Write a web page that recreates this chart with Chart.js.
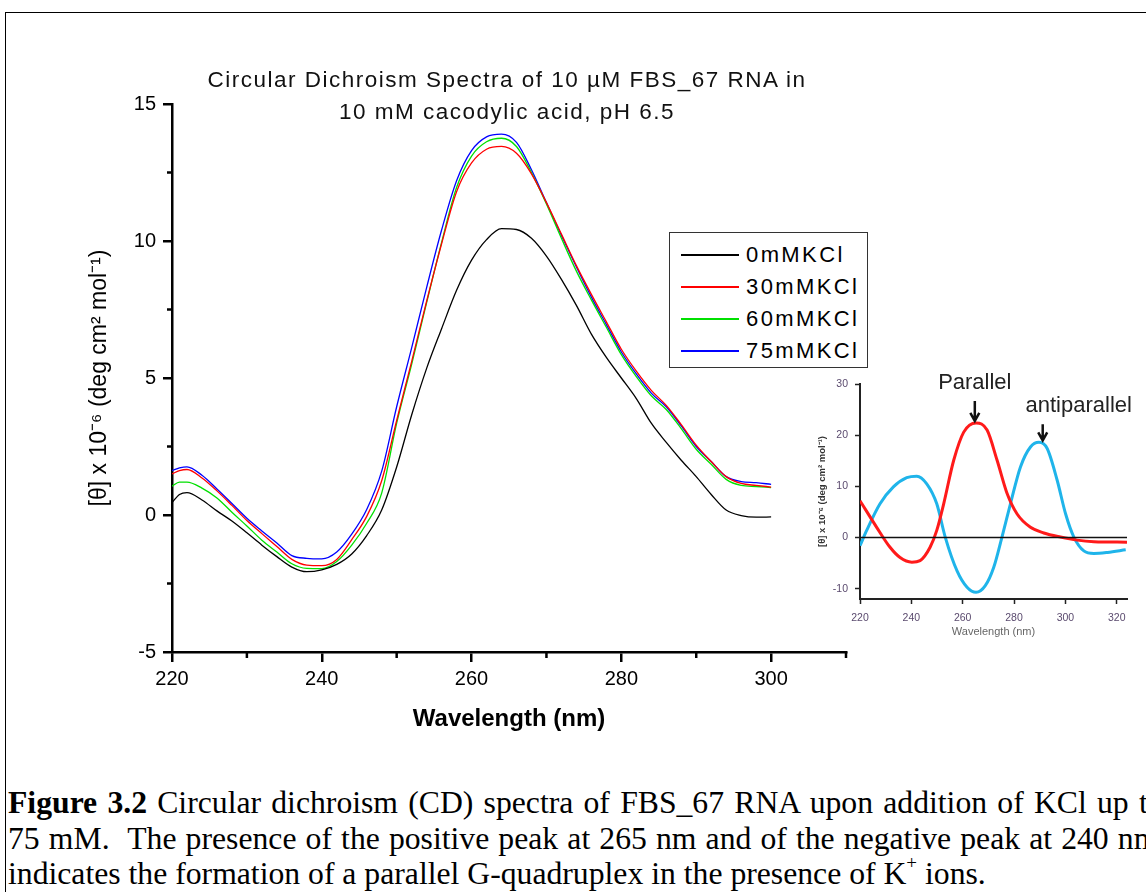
<!DOCTYPE html>
<html lang="en">
<head>
<meta charset="UTF-8">
<title>CD spectra of FBS_67 RNA</title>
<script src="https://cdn.jsdelivr.net/npm/chart.js"></script>
<style>
  html, body { margin: 0; padding: 0; background: #fff; }
  body { width: 1146px; height: 892px; overflow: hidden; position: relative; font-family: 'Liberation Sans', Arial, sans-serif; }
  #frame { position: absolute; left: 5px; top: 12px; width: 1300px; height: 1000px; border-left: 1px solid #000; border-top: 1px solid #000; }
  #mainChart { position: absolute; left: 0; top: 0; }
  #insetChart { position: absolute; left: 790px; top: 360px; }
  #title { position: absolute; left: 0; width: 1014px; top: 64px; text-align: center; font-size: 22.5px; letter-spacing: 1.5px; line-height: 32px; color: #111; }
  #legend { position: absolute; left: 669px; top: 232px; width: 199px; height: 136px; border: 1.5px solid #333; box-sizing: border-box; background: #fff; }
  #legend .row { position: absolute; left: 0; width: 100%; height: 32px; }
  #legend .swatch { position: absolute; left: 11px; top: 15px; width: 58px; height: 2px; }
  #legend .lab { position: absolute; left: 76px; top: 0; line-height: 32px; font-size: 22px; letter-spacing: 2.4px; color: #000; }
  #caption { position: absolute; left: 8px; top: 785px; font-family: 'Liberation Serif', 'Times New Roman', serif; font-size: 31.7px; line-height: 35.5px; white-space: nowrap; color: #000; }
  #caption .just1 { word-spacing: 2.3px; }
  #caption .just2 { word-spacing: 1.2px; }
  #caption sup { font-size: 0.6em; line-height: 0; vertical-align: 0.8em; }
</style>
</head>
<body>
<div id="frame"></div>
<canvas id="mainChart" width="1146" height="760"></canvas>
<div id="title">Circular Dichroism Spectra of 10 µM FBS_67 RNA in<br>10 mM cacodylic acid, pH 6.5</div>
<div id="legend"></div>
<canvas id="insetChart" width="356" height="290"></canvas>
<div id="caption"><span class="just1"><b>Figure 3.2</b> Circular dichroism (CD) spectra of FBS_67 RNA upon addition of KCl up to</span><br><span class="just2">75 mM.&nbsp; The presence of the positive peak at 265 nm and of the negative peak at 240 nm</span><br>indicates the formation of a parallel G-quadruplex in the presence of K<sup>+</sup> ions.</div>

<script>
// main spectra, wavelength in nm
const wavelength = [220, 221, 222, 224, 226, 228, 230, 232, 234, 236, 238, 240, 242, 244, 246, 248, 250, 252, 254, 256, 258, 260,
                    262, 264, 266, 268, 270, 272, 274, 276, 278, 280, 282, 284, 286, 288, 290, 292, 294, 296, 298, 300];
const kcl0  = [0.45, 0.75, 0.82, 0.55, 0.15, -0.22, -0.65, -1.10, -1.52, -1.90, -2.07, -2.00, -1.80, -1.42, -0.75, 0.18, 1.75, 3.65, 5.35, 6.80, 8.20, 9.30,
               10.05, 10.45, 10.42, 10.10, 9.45, 8.60, 7.65, 6.60, 5.75, 5.00, 4.25, 3.35, 2.65, 2.00, 1.40, 0.75, 0.18, -0.02, -0.08, -0.07];
const kcl30 = [1.50, 1.62, 1.66, 1.35, 0.88, 0.35, -0.20, -0.68, -1.15, -1.62, -1.83, -1.85, -1.62, -0.90, -0.05, 1.25, 3.45, 5.60, 7.80, 9.90, 11.80, 12.85,
               13.35, 13.45, 13.20, 12.45, 11.40, 10.25, 9.10, 8.05, 7.05, 6.05, 5.25, 4.55, 4.00, 3.30, 2.55, 1.95, 1.40, 1.15, 1.08, 1.02];
const kcl60 = [1.05, 1.20, 1.20, 0.98, 0.62, 0.10, -0.40, -0.92, -1.35, -1.78, -1.95, -1.96, -1.70, -1.10, -0.30, 0.80, 3.35, 5.50, 7.75, 9.95, 11.95, 13.10,
               13.62, 13.75, 13.45, 12.50, 11.35, 10.10, 8.90, 7.85, 6.85, 5.85, 5.05, 4.35, 3.85, 3.15, 2.40, 1.85, 1.30, 1.08, 1.04, 1.00];
const kcl75 = [1.62, 1.72, 1.76, 1.45, 0.95, 0.42, -0.12, -0.58, -1.02, -1.48, -1.58, -1.60, -1.35, -0.70, 0.20, 1.60, 3.95, 6.10, 8.30, 10.40, 12.20, 13.30,
               13.80, 13.90, 13.60, 12.60, 11.40, 10.20, 9.05, 7.95, 6.95, 5.95, 5.15, 4.45, 3.95, 3.25, 2.50, 1.95, 1.40, 1.22, 1.18, 1.12];
const seriesLabels = ['0mMKCl', '30mMKCl', '60mMKCl', '75mMKCl'];
const seriesColors = ['#000000', '#ff0000', '#00e000', '#0000ff'];
const xTicks = [220, 240, 260, 280, 300];
const yTicks = [-5, 0, 5, 10, 15];
const xMinor = [230, 250, 270, 290, 310];
const yMinor = [-2.5, 2.5, 7.5, 12.5];

// inset: reference spectra of parallel / antiparallel quadruplexes
const parNm   = [220, 226.5, 231.7, 235.6, 240.2, 243.4, 247.3, 249.9, 252.6, 256.5, 260.4, 265.2, 269.5, 273.4, 277.3, 281.2, 286.4, 291.6, 298.1, 304.6, 311.1, 324];
const parVal  = [7.2, 2.0, -1.9, -3.9, -4.8, -4.5, -1.9, 1.4, 6.6, 15.1, 20.6, 22.4, 21.0, 15.1, 8.6, 4.6, 2.0, 0.9, 0.1, -0.5, -0.8, -0.9];
const antiNm  = [220, 222.6, 227.8, 233, 238.2, 242.1, 246, 249.9, 253.2, 257.8, 261.7, 265.2, 268.8, 272.1, 275.3, 278.6, 282.5, 286.4, 289.7, 292.9, 296.8, 300.1, 303.3, 307.2, 311.1, 316.4, 323.5];
const antiVal = [-1.6, 1.4, 6.6, 9.9, 11.7, 12.0, 10.5, 6.6, 0.1, -6.5, -9.7, -10.7, -9.4, -5.8, 0.1, 6.6, 13.8, 17.7, 18.6, 17.4, 11.2, 4.6, 0.1, -2.6, -3.1, -2.9, -2.4];
const zeroNm  = [220, 324];
const zeroVal = [0, 0];
const insetXTicks = [220, 240, 260, 280, 300, 320];
const insetYTicks = [-10, 0, 10, 20, 30];
const noteLabels = ['Parallel', 'antiparallel'];
const noteNm  = [265.5, 290];
const noteVal = [22.4, 18.6];

Chart.defaults.font.family = "'Liberation Sans', Arial, sans-serif";

// legend box
const legend = document.getElementById('legend');
seriesLabels.forEach((lab, i) => {
    const row = document.createElement('div');
    row.className = 'row';
    row.style.top = (6 + i * 32) + 'px';
    const sw = document.createElement('div');
    sw.className = 'swatch';
    sw.style.backgroundColor = seriesColors[i];
    const tx = document.createElement('div');
    tx.className = 'lab';
    tx.textContent = lab;
    row.appendChild(sw);
    row.appendChild(tx);
    legend.appendChild(row);
});

// short ticks between the labelled ones
const minorTicks = {
    id: 'minorTicks',
    afterDraw(chart) {
        const { ctx, chartArea } = chart;
        const x = chart.scales.x, y = chart.scales.y;
        ctx.save();
        ctx.strokeStyle = '#000';
        ctx.lineWidth = 2.5;
        xMinor.forEach(v => {
            const px = x.getPixelForValue(v);
            ctx.beginPath(); ctx.moveTo(px, chartArea.bottom); ctx.lineTo(px, chartArea.bottom + 6); ctx.stroke();
        });
        yMinor.forEach(v => {
            const py = y.getPixelForValue(v);
            ctx.beginPath(); ctx.moveTo(chartArea.left, py); ctx.lineTo(chartArea.left - 5, py); ctx.stroke();
        });
        ctx.restore();
    }
};

const seriesValues = [kcl0, kcl30, kcl60, kcl75];

new Chart(document.getElementById('mainChart'), {
    type: 'line',
    data: {
        datasets: seriesValues.map((vals, i) => ({
            label: seriesLabels[i],
            data: wavelength.map((w, j) => ({ x: w, y: vals[j] })),
            borderColor: seriesColors[i],
            borderWidth: 1.3,
            pointRadius: 0,
            cubicInterpolationMode: 'monotone',
            fill: false
        }))
    },
    options: {
        responsive: false,
        animation: false,
        layout: { padding: { left: 72, right: 300, top: 104, bottom: 26 } },
        plugins: { legend: { display: false }, tooltip: { enabled: false } },
        scales: {
            x: {
                type: 'linear', min: 220, max: 310,
                afterBuildTicks: s => { s.ticks = xTicks.map(v => ({ value: v })); },
                afterFit: s => { s.height = 82; },
                ticks: { font: { size: 20 }, color: '#000', padding: 5, maxRotation: 0, autoSkip: false },
                grid: { drawOnChartArea: false, tickLength: 10, tickWidth: 2.5, tickColor: '#000', lineWidth: 2.5, color: '#000' },
                border: { color: '#000', width: 2.5 },
                title: { display: true, text: 'Wavelength (nm)', font: { size: 24, weight: 'bold' }, color: '#000', padding: { top: 0, bottom: 0 } }
            },
            y: {
                type: 'linear', min: -5, max: 15,
                afterBuildTicks: s => { s.ticks = yTicks.map(v => ({ value: v })); },
                afterFit: s => { s.width = 100; },
                ticks: { font: { size: 20 }, color: '#000', padding: 7 },
                grid: { drawOnChartArea: false, tickLength: 9, tickWidth: 2.5, tickColor: '#000', lineWidth: 2.5, color: '#000' },
                border: { color: '#000', width: 2.5 },
                title: { display: true, text: '[θ] x 10⁻⁶ (deg cm² mol⁻¹)', font: { size: 23 }, color: '#000', padding: { top: 14, bottom: 0 } }
            }
        }
    },
    plugins: [minorTicks]
});

// arrows and labels above the inset peaks
const insetNotes = {
    id: 'insetNotes',
    afterDraw(chart) {
        const { ctx } = chart;
        const x = chart.scales.x, y = chart.scales.y;
        const arrowLen = [20, 16], shift = [-2, 3], labDx = [0, 36], labDy = [38, 34];
        ctx.save();
        ctx.strokeStyle = '#111';
        ctx.fillStyle = '#222';
        ctx.lineWidth = 2.5;
        ctx.font = "22px 'Liberation Sans', Arial, sans-serif";
        ctx.textAlign = 'center';
        ctx.textBaseline = 'middle';
        noteLabels.forEach((lab, i) => {
            const px = x.getPixelForValue(noteNm[i]) + shift[i];
            const tip = y.getPixelForValue(noteVal[i]) - 2;
            ctx.beginPath();
            ctx.moveTo(px, tip - arrowLen[i]); ctx.lineTo(px, tip);
            ctx.moveTo(px - 4.5, tip - 8); ctx.lineTo(px, tip); ctx.lineTo(px + 4.5, tip - 8);
            ctx.stroke();
            ctx.fillText(lab, px + labDx[i], tip - labDy[i]);
        });
        ctx.restore();
    }
};

const toPoints = (xs, ys) => xs.map((w, i) => ({ x: w, y: ys[i] }));

new Chart(document.getElementById('insetChart'), {
    type: 'line',
    data: {
        datasets: [
            { data: toPoints(zeroNm, zeroVal), borderColor: '#111', borderWidth: 1.5, pointRadius: 0 },
            { data: toPoints(parNm, parVal), borderColor: '#ff1a1a', borderWidth: 3, pointRadius: 0, cubicInterpolationMode: 'monotone' },
            { data: toPoints(antiNm, antiVal), borderColor: '#1fb4ea', borderWidth: 3, pointRadius: 0, cubicInterpolationMode: 'monotone' }
        ]
    },
    options: {
        responsive: false,
        animation: false,
        layout: { padding: { left: 10, right: 19, top: 24, bottom: 11 } },
        plugins: { legend: { display: false }, tooltip: { enabled: false } },
        scales: {
            x: {
                type: 'linear', min: 220, max: 324,
                afterBuildTicks: s => { s.ticks = insetXTicks.map(v => ({ value: v })); },
                afterFit: s => { s.height = 40; },
                ticks: { font: { size: 10.5 }, color: '#5a4a6e', padding: 8, maxRotation: 0, autoSkip: false },
                grid: { drawOnChartArea: false, tickLength: 5, tickWidth: 1.5, tickColor: '#222', color: '#222' },
                border: { color: '#222', width: 2 },
                title: { display: true, text: 'Wavelength (nm)', font: { size: 11 }, color: '#666', padding: { top: 0, bottom: 0 } }
            },
            y: {
                type: 'linear', min: -12, max: 30,
                afterBuildTicks: s => { s.ticks = insetYTicks.map(v => ({ value: v })); },
                afterFit: s => { s.width = 60; },
                ticks: { font: { size: 10.5 }, color: '#5a4a6e', padding: 7 },
                grid: { drawOnChartArea: false, tickLength: 5, tickWidth: 1.5, tickColor: '#222', color: '#222' },
                border: { color: '#222', width: 2 },
                title: { display: true, text: '[θ] x 10⁻⁶ (deg cm² mol⁻¹)', font: { size: 9.5, weight: 'bold' }, color: '#333', padding: { top: 17, bottom: 0 } }
            }
        }
    },
    plugins: [insetNotes]
});
</script>
</body>
</html>
